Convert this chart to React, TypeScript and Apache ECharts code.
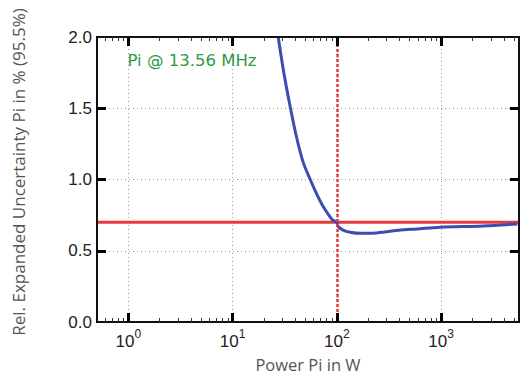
import React, { useEffect, useRef } from "react";
import * as echarts from "echarts";

const xMin = 0.5;
const xMax = 5600;
const yMin = 0;
const yMax = 2;
const xMajorTicks = [1, 10, 100, 1000];
const xMinorDecades = [0.1, 1, 10, 100, 1000];
const xMinorSteps = [2, 3, 4, 5, 6, 7, 8, 9];
const yMajorTicks = [0.5, 1.0, 1.5];
const redLevel = 0.7;
const redMarkerPower = 100;
const bluePower = [27.4, 31, 35.7, 41, 47.6, 55.6, 64, 74, 90, 100, 103, 115, 134, 168, 220, 279, 405, 590, 980, 2535, 5400];
const blueUnc = [2.0, 1.75, 1.51, 1.3, 1.12, 1.0, 0.9, 0.81, 0.72, 0.7, 0.67, 0.645, 0.63, 0.622, 0.623, 0.63, 0.645, 0.653, 0.665, 0.674, 0.688];
const xTitle = "Power Pi in W";
const yTitle = "Rel. Expanded Uncertainty Pi in % (95.5%)";
const annotation = "Pi @ 13.56 MHz";

export default function App() {
  const ref = useRef<HTMLDivElement>(null);
  useEffect(() => {
    if (!ref.current) return;
    const chart = echarts.init(ref.current, null, { renderer: "svg" });
    const mkSplit = () => ({ show: true, lineStyle: { color: "#999", type: [1, 3], width: 1 } });
    // tick lengths expressed in axis units (about 9 px major, 4 px minor)
    const majorY = 0.063;
    const minorY = 0.028;
    const majorXFactor = 1.22;
    const frameSegs = [
      { coords: [[xMin, yMin], [xMax, yMin]] },
      { coords: [[xMax, yMin], [xMax, yMax]] },
      { coords: [[xMax, yMax], [xMin, yMax]] },
      { coords: [[xMin, yMax], [xMin, yMin]] },
    ];
    const majorSegs: any[] = [];
    xMajorTicks.forEach((t) => {
      majorSegs.push({ coords: [[t, yMin], [t, yMin + majorY]] });
      majorSegs.push({ coords: [[t, yMax], [t, yMax - majorY]] });
    });
    yMajorTicks.forEach((t) => {
      majorSegs.push({ coords: [[xMin, t], [xMin * majorXFactor, t]] });
      majorSegs.push({ coords: [[xMax, t], [xMax / majorXFactor, t]] });
    });
    const minorSegs: any[] = [];
    xMinorDecades.forEach((d) => {
      xMinorSteps.forEach((m) => {
        const v = d * m;
        if (v <= xMin || v >= xMax) return;
        minorSegs.push({ coords: [[v, yMin], [v, yMin + minorY]] });
        minorSegs.push({ coords: [[v, yMax], [v, yMax - minorY]] });
      });
    });
    chart.setOption({
      animation: false,
      grid: { left: 97, top: 37, right: 1, bottom: 56, show: true, borderColor: "#000", borderWidth: 2 },
      xAxis: {
        type: "log",
        min: xMin,
        max: xMax,
        axisLine: { show: false },
        axisTick: { show: false },
        splitLine: mkSplit(),
        axisLabel: {
          fontFamily: "Liberation Sans",
          fontSize: 17,
          color: "#222",
          margin: 6,
          showMinLabel: false,
          showMaxLabel: false,
          formatter: (v: number) => `{b|10}{s|${Math.round(Math.log10(v))}}`,
          rich: {
            b: { fontFamily: "Liberation Sans", fontSize: 17, color: "#222", verticalAlign: "bottom" },
            s: { fontFamily: "Liberation Sans", fontSize: 12, color: "#222", verticalAlign: "top", padding: [0, 0, 10, 0] },
          },
        },
        name: xTitle,
        nameLocation: "middle",
        nameGap: 34,
        nameTextStyle: { fontFamily: "Open Sans", fontSize: 16.5, color: "#555" },
      },
      yAxis: {
        type: "value",
        min: yMin,
        max: yMax,
        interval: 0.5,
        axisLine: { show: false },
        axisTick: { show: false },
        splitLine: mkSplit(),
        axisLabel: { fontFamily: "Liberation Sans", fontSize: 17, color: "#222", margin: 5, formatter: (v: number) => v.toFixed(1) },
      },
      graphic: [
        {
          type: "text",
          x: 18,
          y: 172,
          rotation: Math.PI / 2,
          style: { text: yTitle, fontFamily: "Open Sans", fontSize: 17, fill: "#555", textAlign: "center", textVerticalAlign: "middle" },
        },
        {
          type: "text",
          x: 192,
          y: 60,
          style: { text: annotation, fontFamily: "DejaVu Sans", fontSize: 16.5, fill: "#2e9b3f", textAlign: "center", textVerticalAlign: "middle" },
        },
      ],
      series: [
        {
          type: "line",
          data: [[xMin, redLevel], [xMax, redLevel]],
          showSymbol: false,
          lineStyle: { color: "#e83a3c", width: 3 },
          markLine: {
            symbol: "none",
            silent: true,
            label: { show: false },
            lineStyle: { color: "#e83a3c", width: 2.5, type: [3, 2] },
            data: [{ xAxis: redMarkerPower }],
          },
        },
        {
          type: "line",
          data: bluePower.map((p, i) => [p, blueUnc[i]]),
          showSymbol: false,
          smooth: 0.3,
          lineStyle: { color: "#3a4db3", width: 3 },
        },
        {
          type: "lines",
          coordinateSystem: "cartesian2d",
          silent: true,
          z: 6,
          lineStyle: { color: "#111", width: 2, opacity: 1, curveness: 0 },
          data: frameSegs,
        },
        {
          type: "lines",
          coordinateSystem: "cartesian2d",
          silent: true,
          z: 6,
          lineStyle: { color: "#000", width: 3, opacity: 1, curveness: 0 },
          data: majorSegs,
        },
        {
          type: "lines",
          coordinateSystem: "cartesian2d",
          silent: true,
          z: 6,
          lineStyle: { color: "#333", width: 1, opacity: 1, curveness: 0 },
          data: minorSegs,
        },
      ],
    });
    return () => chart.dispose();
  }, []);
  return <div ref={ref} style={{ position: "absolute", left: 0, top: 0, width: 520, height: 378 }} />;
}
